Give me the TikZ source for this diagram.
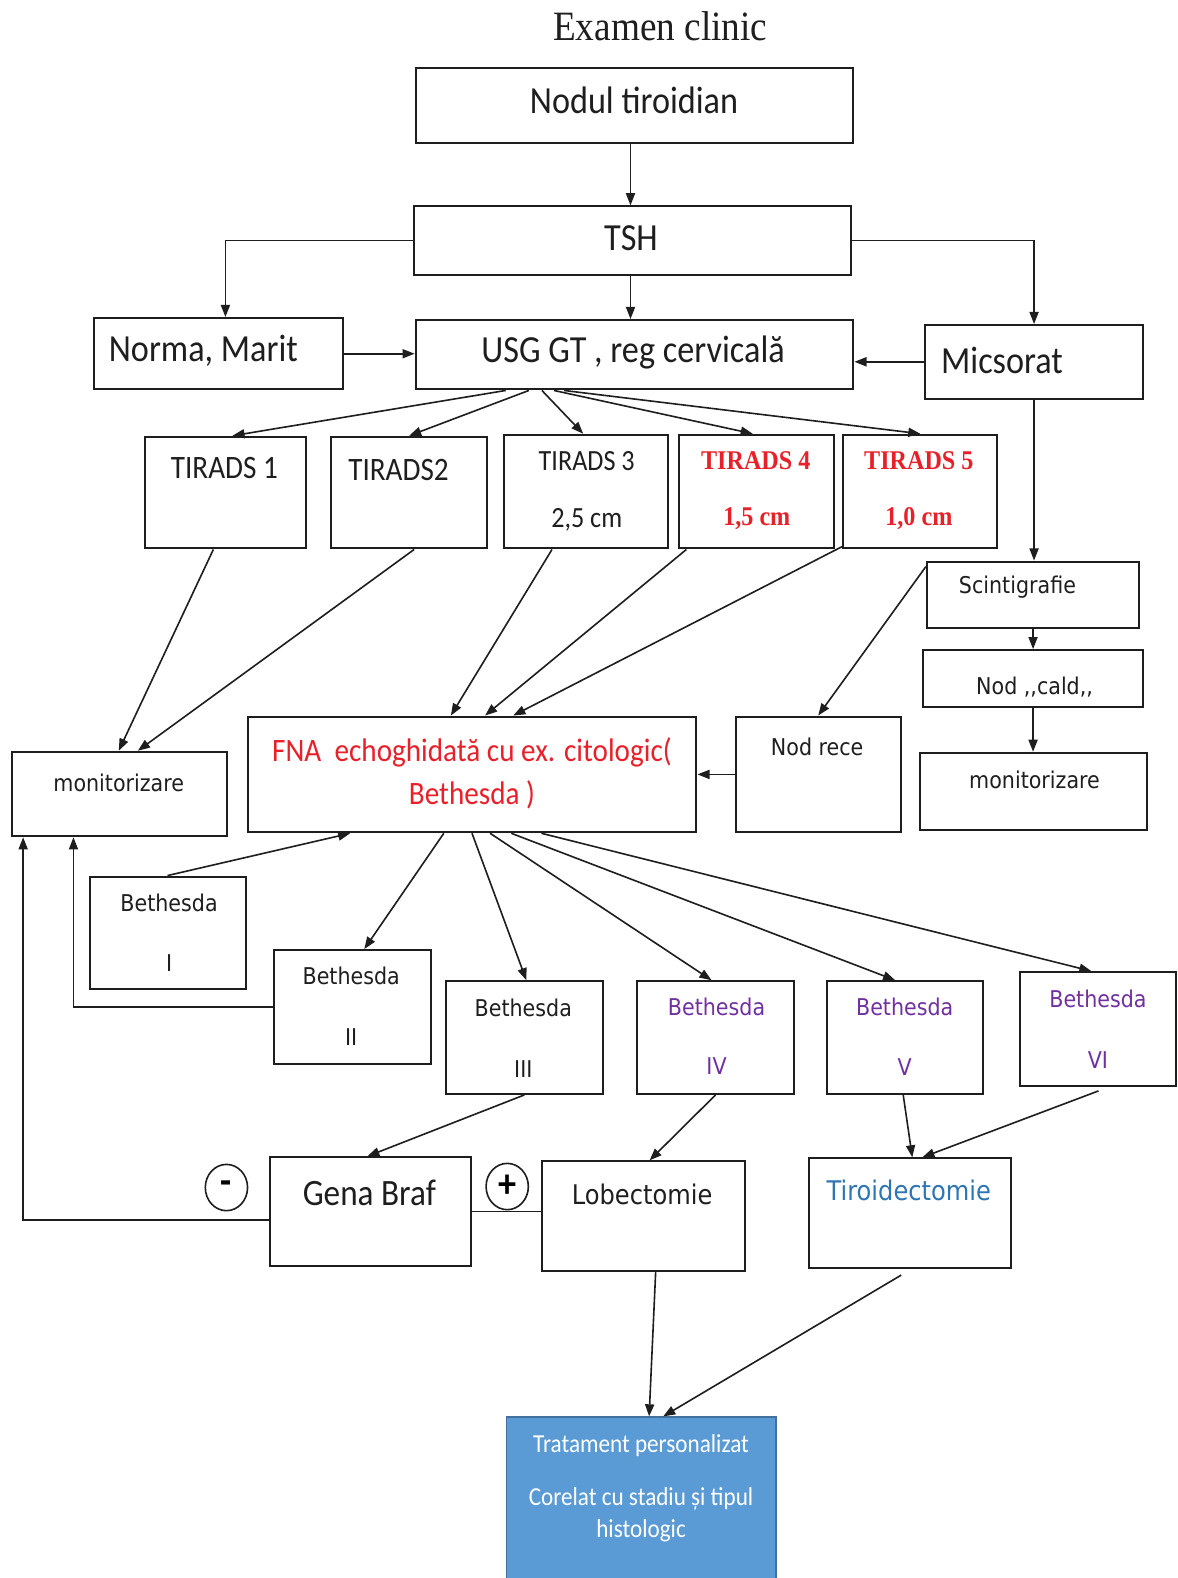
\documentclass[tikz,border=0pt]{standalone}
\usepackage{fontspec}
\usepackage{graphicx}
\usetikzlibrary{arrows.meta,shapes.geometric}
\newfontfamily\fCal{Carlito}
\newfontfamily\fDej{DejaVu Sans}
\newfontfamily\fSer{Liberation Serif}
\newcommand\vs[1]{\scalebox{1}[1.12]{#1}}
\definecolor{myred}{HTML}{E8202A}
\definecolor{mypurple}{HTML}{7030A0}
\definecolor{myblue}{HTML}{2E75B6}
\definecolor{tfill}{HTML}{5B9BD5}
\definecolor{tborder}{HTML}{41719C}
\definecolor{ink}{HTML}{1E1E1E}
\begin{document}
\begin{tikzpicture}[x=1pt,y=-1pt,
  box/.style={draw=ink, line width=2pt, rectangle, inner sep=0pt},
  lbl/.style={inner sep=0pt, text=ink},
  arr/.style={draw=ink, line width=1.6pt, -{Triangle[length=12pt,width=9pt]}},
  ln/.style={draw=ink, line width=1.6pt},
  fBig/.style={font={\fCal\fontsize{34}{40}\selectfont}},
  fTir/.style={font={\fCal\fontsize{29}{34}\selectfont}},
  fTirS/.style={font={\fCal\fontsize{26}{30}\selectfont}},
  fSerS/.style={font={\fSer\bfseries\fontsize{24}{30}\selectfont}},
  fSm/.style={font={\fDej\fontsize{20.5}{24}\selectfont}},
  fMd/.style={font={\fDej\fontsize{24}{28}\selectfont}},
  fTr/.style={font={\fCal\fontsize{23}{28}\selectfont}},
  sign/.style={draw=ink, line width=1.6pt, ellipse, minimum width=42pt, minimum height=46pt, inner sep=0pt, font={\fCal\bfseries\fontsize{36}{40}\selectfont}}
]
\useasboundingbox (0,0) rectangle (1170,1568);

% ---------- boxes ----------
\node[box, minimum width=435pt, minimum height=74pt] (nod) at (630.5,105) {};
\node[box, minimum width=435pt, minimum height=68pt] (tsh) at (628.5,239) {};
\node[box, minimum width=248pt, minimum height=71pt] (norma) at (217,351.5) {};
\node[box, minimum width=435pt, minimum height=69pt] (usg) at (630.5,352.5) {};
\node[box, minimum width=217pt, minimum height=73pt] (mic) at (1027.5,359.5) {};
\node[box, minimum width=160pt, minimum height=111pt] (t1) at (224,489.5) {};
\node[box, minimum width=155pt, minimum height=111pt] (t2) at (406.5,489.5) {};
\node[box, minimum width=163pt, minimum height=113pt] (t3) at (582.5,488.5) {};
\node[box, minimum width=154pt, minimum height=113pt] (t4) at (752,488.5) {};
\node[box, minimum width=153pt, minimum height=113pt] (t5) at (914.5,488.5) {};
\node[box, minimum width=211pt, minimum height=66pt] (scin) at (1026.5,591) {};
\node[box, minimum width=219pt, minimum height=57pt] (cald) at (1026.5,674.5) {};
\node[box, minimum width=164pt, minimum height=115pt] (rece) at (813,769.5) {};
\node[box, minimum width=226pt, minimum height=77pt] (monR) at (1027,786.5) {};
\node[box, minimum width=446pt, minimum height=115pt] (fna) at (469,769.5) {};
\node[box, minimum width=214pt, minimum height=84pt] (monL) at (119,789) {};
\node[box, minimum width=155pt, minimum height=112pt] (b1) at (166.5,927) {};
\node[box, minimum width=156pt, minimum height=113pt] (b2) at (350,1000.5) {};
\node[box, minimum width=156pt, minimum height=112pt] (b3) at (521,1031) {};
\node[box, minimum width=156pt, minimum height=112pt] (b4) at (711,1031) {};
\node[box, minimum width=155pt, minimum height=112pt] (b5) at (899.5,1031) {};
\node[box, minimum width=155pt, minimum height=113pt] (b6) at (1091.5,1022.5) {};
\node[box, minimum width=200pt, minimum height=108pt] (gena) at (368,1204) {};
\node[box, minimum width=201pt, minimum height=109pt] (lob) at (639.5,1208.5) {};
\node[box, minimum width=201pt, minimum height=109pt] (tiro) at (904.5,1205.5) {};
\node[rectangle, draw=tborder, line width=1.2pt, fill=tfill, minimum width=268pt, minimum height=166pt, inner sep=0pt] (trat) at (637,1491) {};

% ---------- texts ----------
\node[lbl, font={\fSer\fontsize{37}{40}\selectfont}] (title) at (656,26) {\vs{Examen clinic}};
\node[lbl, fBig] (xnod) at (630,100) {\vs{Nodul tiroidian}};
\node[lbl, fBig] (xtsh) at (627,237) {\vs{TSH}};
\node[lbl, fBig, anchor=west] (xnorma) at (108,349) {\vs{Norma, Marit}};
\node[lbl, fBig] (xusg) at (629,350) {\vs{USG GT , reg cervicală}};
\node[lbl, fBig, anchor=west] (xmic) at (935,358) {\vs{Micsorat}};
\node[lbl, fTir] (xt1) at (223,465) {\vs{TIRADS 1}};
\node[lbl, fTir] (xt2) at (396,467) {\vs{TIRADS2}};
\node[lbl, fTirS] (xt3a) at (583,458) {\vs{TIRADS 3}};
\node[lbl, fTirS] (xt3b) at (583,517) {\vs{2,5 cm}};
\node[lbl, fSerS, text=myred] (xt4a) at (751,458) {\vs{TIRADS 4}};
\node[lbl, fSerS, text=myred] (xt4b) at (752,515) {\vs{1,5 cm}};
\node[lbl, fSerS, text=myred] (xt5a) at (913,458) {\vs{TIRADS 5}};
\node[lbl, fSerS, text=myred] (xt5b) at (913,515) {\vs{1,0 cm}};
\node[lbl, fSm] (xscin) at (1011,583) {\vs{Scintigrafie}};
\node[lbl, fSm] (xcald) at (1028,683) {\vs{Nod ,,cald,,}};
\node[lbl, fSm] (xrece) at (812,742) {\vs{Nod rece}};
\node[lbl, fSm] (xmonR) at (1028,775) {\vs{monitorizare}};
\node[lbl, fTir, text=myred] (xfna1) at (469,748) {\vs{FNA\ \ echoghidată cu ex. citologic(}};
\node[lbl, fTir, text=myred] (xfna2) at (469,790) {\vs{Bethesda )}};
\node[lbl, fSm] (xmonL) at (118,778) {\vs{monitorizare}};
\node[lbl, fSm] (xb1a) at (168,897) {\vs{Bethesda}};
\node[lbl, fSm] (xb1b) at (168,957) {\vs{I}};
\node[lbl, fSm] (xb2a) at (349,970) {\vs{Bethesda}};
\node[lbl, fSm] (xb2b) at (349,1030) {\vs{II}};
\node[lbl, fSm] (xb3a) at (520,1001) {\vs{Bethesda}};
\node[lbl, fSm] (xb3b) at (520,1062) {\vs{III}};
\node[lbl, fSm, text=mypurple] (xb4a) at (712,1000) {\vs{Bethesda}};
\node[lbl, fSm, text=mypurple] (xb4b) at (712,1059) {\vs{IV}};
\node[lbl, fSm, text=mypurple] (xb5a) at (899,1000) {\vs{Bethesda}};
\node[lbl, fSm, text=mypurple] (xb5b) at (899,1060) {\vs{V}};
\node[lbl, fSm, text=mypurple] (xb6a) at (1091,993) {\vs{Bethesda}};
\node[lbl, fSm, text=mypurple] (xb6b) at (1091,1053) {\vs{VI}};
\node[lbl, font={\fCal\fontsize{33}{38}\selectfont}] (xgena) at (367,1185) {\vs{Gena Braf}};
\node[lbl, fMd] (xlob) at (638,1187) {\vs{Lobectomie}};
\node[lbl, fMd, text=myblue] (xtiro) at (903,1183) {\vs{Tiroidectomie}};
\node[lbl, fTr, text=white] (xtr1) at (637,1436) {\vs{Tratament personalizat}};
\node[lbl, fTr, text=white] (xtr2) at (637,1489) {\vs{Corelat cu stadiu și tipul}};
\node[lbl, fTr, text=white] (xtr3) at (637,1521) {\vs{histologic}};
\node[sign] (minus) at (225,1180) {\vs{-}};
\node[sign] (plus) at (504,1179) {\vs{+}};

% ---------- connectors ----------
\draw[arr] ([xshift=-4pt]nod.south) -- ([xshift=-4pt]nod.south |- tsh.north);
\draw[arr] (tsh.west) -| ([xshift=7pt]norma.north);
\draw[arr] (tsh.east) -| (mic.north);
\draw[arr] ([xshift=-2pt]tsh.south) -- ([xshift=-2pt]tsh.south |- usg.north);
\draw[arr] (norma.east) -- (norma.east -| usg.west);
\draw[arr] (mic.west) -- (mic.west -| usg.east);
\draw[arr] ([xshift=-128pt]usg.south) -- ([xshift=7pt]t1.north);
\draw[arr] ([xshift=-105pt]usg.south) -- (t2.north);
\draw[arr] ([xshift=-92pt]usg.south) -- ([xshift=-3pt]t3.north);
\draw[arr] ([xshift=-80pt]usg.south) -- ([xshift=-4pt]t4.north);
\draw[arr] ([xshift=-70pt]usg.south) -- (t5.north);
\draw[arr] ([xshift=-12pt]t1.south) -- ([xshift=-1pt]monL.north);
\draw[arr] ([xshift=5pt]t2.south) -- ([xshift=18pt]monL.north);
\draw[arr] ([xshift=-34pt]t3.south) -- ([xshift=-21pt]fna.north);
\draw[arr] ([xshift=-70pt]t4.south) -- ([xshift=13pt]fna.north);
\draw[arr] ([yshift=3pt]t5.south west) -- ([xshift=41pt]fna.north);
\draw[arr] (mic.south) -- (mic.south |- scin.north);
\draw[arr] (scin.south) -- (scin.south |- cald.north);
\draw[arr] (cald.south) -- (cald.south |- monR.north);
\draw[arr] ([yshift=-6pt]scin.north west) -- (rece.north);
\draw[arr] (rece.west) -- (rece.west -| fna.east);
\draw[arr] (b1.north) -- ([xshift=-121pt]fna.south);
\draw[arr] ([xshift=-28pt]fna.south) -- ([xshift=12pt]b2.north);
\draw[arr] (fna.south) -- ([xshift=2pt]b3.north);
\draw[arr] ([xshift=18pt]fna.south) -- ([xshift=-4pt]b4.north);
\draw[arr] ([xshift=39pt]fna.south) -- ([xshift=-10pt]b5.north);
\draw[arr] ([xshift=69pt]fna.south) -- ([xshift=-7pt]b6.north);
\draw[arr] (b2.west) -| ([xshift=-46pt]monL.south);
\draw[arr] ([yshift=-8pt]gena.west) -| ([xshift=-96pt]monL.south);
\draw[ln] (gena.east) -- (gena.east -| lob.west);
\draw[arr] (b3.south) -- ([xshift=-3pt]gena.north);
\draw[arr] (b4.south) -- ([xshift=6pt]lob.north);
\draw[arr] ([xshift=-2pt]b5.south) -- ([xshift=2pt]tiro.north);
\draw[arr] ([yshift=-4pt]b6.south) -- ([xshift=12pt]tiro.north);
\draw[arr] ([xshift=12pt]lob.south) -- ([xshift=8pt]trat.north);
\draw[arr] ([xshift=-9pt,yshift=-6pt]tiro.south) -- ([xshift=22pt]trat.north);
\end{tikzpicture}
\end{document}
